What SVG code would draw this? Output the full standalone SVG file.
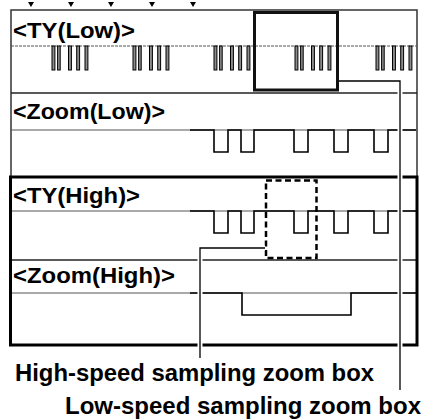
<svg xmlns="http://www.w3.org/2000/svg" width="422" height="419" viewBox="0 0 422 419">
<style>
.lbl{font-family:"Liberation Sans",Arial,sans-serif;font-weight:bold;font-size:21.5px;fill:#000}
.cap{font-family:"Liberation Sans",Arial,sans-serif;font-weight:bold;font-size:23px;fill:#000}
.sep{stroke:#555;stroke-width:1;fill:none}
.sepd{stroke:#222;stroke-width:1.5;fill:none}
.wave{stroke:#000;stroke-width:1.6;fill:none}
.dip{fill:#8c8c8c;stroke:#000;stroke-width:1}
.halo{stroke:#fff;stroke-width:5;fill:none}
.conn{stroke:#000;stroke-width:1.3;fill:none}
</style>
<defs>
<path id="tick" d="M-3,2 L3,2 L0,7 Z" fill="#000"/>
<g id="burst">
<rect class="dip" x="0" y="46" width="2.9" height="24"/>
<rect class="dip" x="5.6" y="46" width="2.6" height="24"/>
<rect class="dip" x="16.5" y="46" width="2.9" height="24"/>
<rect class="dip" x="24.7" y="46" width="2.9" height="24"/>
<rect class="dip" x="33" y="46" width="2.9" height="24"/>
</g>
</defs>
<rect width="422" height="419" fill="#fff"/>
<g id="ticks">
<use href="#tick" x="31" y="0"/>
<use href="#tick" x="71" y="0"/>
<use href="#tick" x="111" y="0"/>
<use href="#tick" x="152" y="0"/>
<use href="#tick" x="193" y="0"/>
</g>
<g id="frame-low">
<rect x="11" y="10" width="406" height="167" fill="none" stroke="#333" stroke-width="1.5"/>
<line class="sep" x1="11" y1="46" x2="417" y2="46" stroke-dasharray="3,1"/>
<line class="sepd" x1="11" y1="93" x2="417" y2="93"/>
<line class="sep" x1="11" y1="130" x2="417" y2="130"/>
</g>
<g id="frame-high">
<line class="sep" x1="11" y1="211" x2="417" y2="211"/>
<line class="sepd" x1="11" y1="260" x2="417" y2="260"/>
<line class="sep" x1="11" y1="293" x2="417" y2="293"/>
<rect x="10.5" y="177" width="406.5" height="168" fill="none" stroke="#000" stroke-width="3"/>
</g>
<g id="ty-low">
<text class="lbl" x="13" y="38" textLength="122" lengthAdjust="spacingAndGlyphs">&lt;TY(Low)&gt;</text>
<use href="#burst" x="52" y="0"/>
<use href="#burst" x="133" y="0"/>
<use href="#burst" x="214" y="0"/>
<use href="#burst" x="295" y="0"/>
<use href="#burst" x="376" y="0"/>
</g>
<g id="zoom-low">
<text class="lbl" x="13" y="119" textLength="152" lengthAdjust="spacingAndGlyphs">&lt;Zoom(Low)&gt;</text>
<path class="wave" d="M190,130 H214 V152 H228 V130 H241 V152 H254 V130 H294 V152 H308 V130 H334 V152 H348 V130 H374 V152 H388 V130 H416"/>
</g>
<g id="ty-high">
<text class="lbl" x="13" y="203" textLength="127" lengthAdjust="spacingAndGlyphs">&lt;TY(High)&gt;</text>
<path class="wave" d="M190,211 H214 V233 H228 V211 H241 V233 H254 V211 H294 V233 H308 V211 H334 V233 H348 V211 H374 V233 H388 V211 H416"/>
</g>
<g id="zoom-high">
<text class="lbl" x="13" y="283" textLength="162" lengthAdjust="spacingAndGlyphs">&lt;Zoom(High)&gt;</text>
<path class="wave" d="M190,293 H242 V315 H351 V293 H416"/>
</g>
<g id="zoom-box-low">
<rect x="254.5" y="12.5" width="83" height="77.5" fill="none" stroke="#111" stroke-width="3"/>
</g>
<g id="zoom-box-high">
<rect x="266" y="180.5" width="50.5" height="77.5" fill="none" stroke="#000" stroke-width="2.5" stroke-dasharray="6,3.5"/>
</g>
<g id="connectors">
<path class="halo" d="M339,81 H400 V390"/>
<path class="conn" d="M339,81 H400 V390"/>
<path class="halo" d="M265,248 H200 V358"/>
<path class="conn" d="M265,248 H200 V358"/>
</g>
<g id="captions">
<text class="cap" x="15" y="381" textLength="359" lengthAdjust="spacingAndGlyphs">High-speed sampling zoom box</text>
<text class="cap" x="65" y="414" textLength="356" lengthAdjust="spacingAndGlyphs">Low-speed sampling zoom box</text>
</g>
</svg>
